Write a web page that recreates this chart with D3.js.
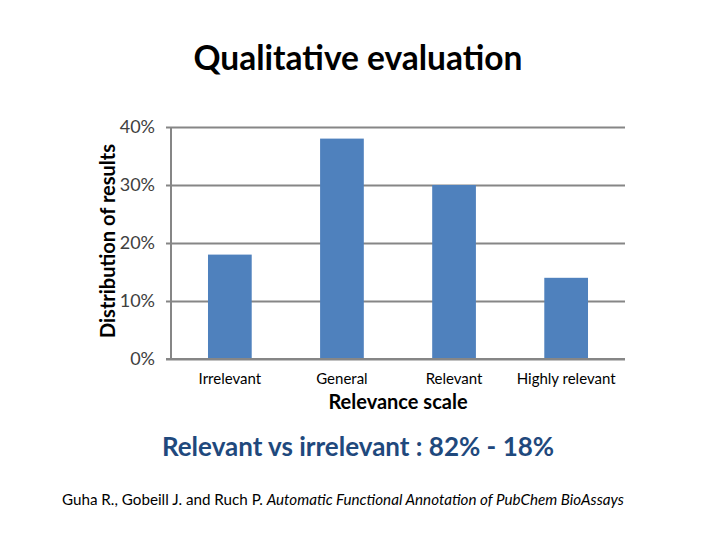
<!DOCTYPE html>
<html>
<head>
<meta charset="utf-8">
<script src="https://cdn.jsdelivr.net/npm/d3@7/dist/d3.min.js"></script>
<style>
	body { margin: 0; background: #fff; }
	text { font-family: Lato, "Open Sans", sans-serif; }
</style>
</head>
<body>
<div id="chart"></div>
<script>
	// data
	const categories = ['Irrelevant', 'General', 'Relevant', 'Highly relevant']
	const shares     = [0.18, 0.38, 0.30, 0.14]
	const yTicks     = [0, 0.1, 0.2, 0.3, 0.4]

	const W = 720, H = 540
	const margin = {top: 127, right: 95, bottom: 181, left: 171}
	const w = W - margin.left - margin.right, h = H - margin.top - margin.bottom

	const $svg = d3.select('#chart').append('svg')
		.attr('width', W)
		.attr('height', H)

	const $g = $svg.append('g')
		.attr('transform', `translate(${margin.left}, ${margin.top})`)

	let x = d3.scaleBand()
		.domain(categories)
		.range([0, w])
		.paddingInner(0.61)
		.paddingOuter(0.33)

	let y = d3.scaleLinear()
		.domain([0, 0.4])
		.range([h, 0])

	// gridlines + axis
	const $yAxis = $g.append('g')
		.call(d3.axisLeft(y).tickValues(yTicks).tickFormat(d3.format('.0%')).tickSize(-w).tickPadding(16))

	$yAxis.select('.domain').remove()
	$yAxis.selectAll('.tick line')
		.attr('x1', -5)
		.attr('stroke', '#868686')
		.attr('stroke-width', 2)
	$yAxis.selectAll('.tick text')
		.attr('fill', '#404040')
		.style('font-size', '18px')

	$g.append('line')
		.attr('x1', 0).attr('x2', 0)
		.attr('y1', 0).attr('y2', h)
		.attr('stroke', '#868686')
		.attr('stroke-width', 2)

	// bars
	$g.selectAll('.bar')
		.data(categories)
		.enter()
		.append('rect')
		.attr('class', 'bar')
		.attr('x', d => x(d))
		.attr('width', x.bandwidth())
		.attr('y', (d, i) => y(shares[i]))
		.attr('height', (d, i) => h - y(shares[i]))
		.attr('fill', '#4F81BD')

	// redraw the base line over the bars
	$g.append('line')
		.attr('x1', -5).attr('x2', w)
		.attr('y1', y(0)).attr('y2', y(0))
		.attr('stroke', '#868686')
		.attr('stroke-width', 2)

	// category labels
	$g.selectAll('.cat')
		.data(categories)
		.enter()
		.append('text')
		.attr('class', 'cat')
		.attr('x', d => x(d) + x.bandwidth() / 2)
		.attr('y', h + 25)
		.attr('text-anchor', 'middle')
		.attr('fill', '#000')
		.style('font-size', '15px')
		.text(d => d)

	// titles
	$svg.append('text')
		.attr('x', 358).attr('y', 70)
		.attr('text-anchor', 'middle')
		.style('font-size', '33.5px')
		.style('font-weight', 'bold')
		.text('Qualitative evaluation')

	$svg.append('text')
		.attr('transform', `translate(115, 241) rotate(-90)`)
		.attr('text-anchor', 'middle')
		.style('font-size', '20px')
		.style('font-weight', 'bold')
		.text('Distribution of results')

	$svg.append('text')
		.attr('x', 398).attr('y', 409)
		.attr('text-anchor', 'middle')
		.style('font-size', '20px')
		.style('font-weight', 'bold')
		.text('Relevance scale')

	$svg.append('text')
		.attr('x', 358).attr('y', 456)
		.attr('text-anchor', 'middle')
		.attr('fill', '#1F497D')
		.style('font-size', '26px')
		.style('font-weight', 'bold')
		.text('Relevant vs irrelevant : 82% - 18%')

	// citation
	const $cite = $svg.append('text')
		.attr('x', 62).attr('y', 505)
		.style('font-size', '15.2px')
	$cite.append('tspan').text('Guha R., Gobeill J. and Ruch P. ')
	$cite.append('tspan').style('font-style', 'italic').text('Automatic Functional Annotation of PubChem BioAssays')
</script>
</body>
</html>
